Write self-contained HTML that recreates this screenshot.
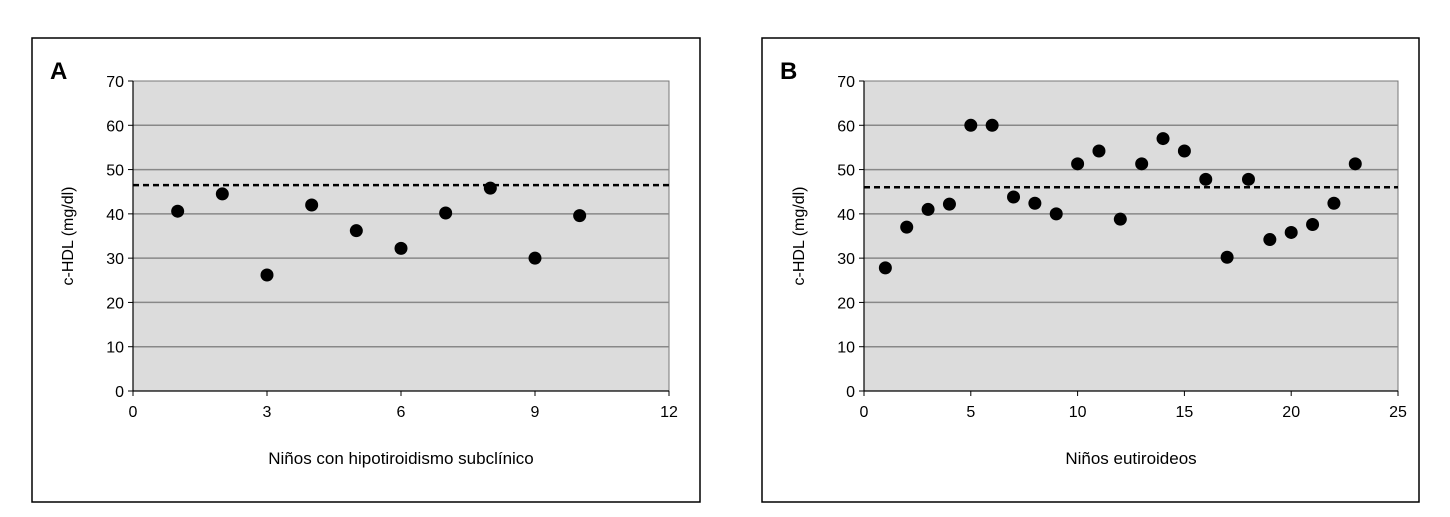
<!DOCTYPE html>
<html><head><meta charset="utf-8"><style>
body{margin:0;background:#fff;width:1450px;height:512px;overflow:hidden;font-family:"Liberation Sans",sans-serif}
</style></head><body>
<svg id="svg" width="1450" height="512" xmlns="http://www.w3.org/2000/svg"></svg>
<script>
const yTicks=[0,10,20,30,40,50,60,70];
const aXTicks=[0,3,6,9,12];
const aXValues=[1,2,3,4,5,6,7,8,9,10];
const aYValues=[40.6,44.5,26.2,42,36.2,32.2,40.2,45.8,30,39.6];
const aMean=46.5;
const bXTicks=[0,5,10,15,20,25];
const bXValues=[1,2,3,4,5,6,7,8,9,10,11,12,13,14,15,16,17,18,19,20,21,22,23];
const bYValues=[27.8,37,41,42.2,60,60,43.8,42.4,40,51.3,54.2,38.8,51.3,57,54.2,47.8,30.2,47.8,34.2,35.8,37.6,42.4,51.3];
const bMean=46;
const NS="http://www.w3.org/2000/svg";
const svg=document.getElementById('svg');
function mk(tag,attrs,parent,text){const e=document.createElementNS(NS,tag);for(const k in attrs)e.setAttribute(k,attrs[k]);if(text!==undefined)e.textContent=text;(parent||svg).appendChild(e);return e;}
function panel(id,box,plot,xMax,xTicks,xs,ys,mean,letter,xTitle){
  const g=mk('g',{});
  
  
  const fr=mk('rect',{x:box[0],y:box[1],width:box[2],height:box[3],fill:'#fff',stroke:'#000','stroke-width':1.5},g);
  
  
  const [px,py,pw,ph]=plot;
  const X=v=>px+v/xMax*pw, Y=v=>py+ph-v/70*ph;
  const bg=mk('rect',{x:px,y:py,width:pw,height:ph,fill:'#dcdcdc',stroke:'#777','stroke-width':1},g);
  
  
  yTicks.forEach(t=>{
    if(t>0&&t<70){const l=mk('line',{x1:px,x2:px+pw,y1:Y(t),y2:Y(t),stroke:'#888','stroke-width':1.5},g);
    
    }
    mk('line',{x1:px-5,x2:px,y1:Y(t),y2:Y(t),stroke:'#000'},g);
    const tx=mk('text',{x:px-9,y:Y(t)+6,'text-anchor':'end','font-size':16},g,t);
    
    
  });
  mk('line',{x1:px,x2:px,y1:py,y2:py+ph,stroke:'#000','stroke-width':1.2},g);
  mk('line',{x1:px,x2:px+pw,y1:py+ph,y2:py+ph,stroke:'#000','stroke-width':1.2},g);
  xTicks.forEach(t=>{
    mk('line',{x1:X(t),x2:X(t),y1:py+ph,y2:py+ph+5,stroke:'#000'},g);
    const tx=mk('text',{x:X(t),y:py+ph+26,'text-anchor':'middle','font-size':16},g,t);
    
    
  });
  const ml=mk('line',{x1:px,x2:px+pw,y1:Y(mean),y2:Y(mean),stroke:'#000','stroke-width':2.5,'stroke-dasharray':'6,4'},g);
  
  
  xs.forEach((x,i)=>{
    const c=mk('circle',{cx:X(x),cy:Y(ys[i]),r:6.5,fill:'#000'},g);
    
    
  });
  const lt=mk('text',{x:box[0]+18,y:box[1]+41,'font-size':24,'font-weight':'bold'},g,letter);
  
  
  const yt=mk('text',{x:0,y:0,'font-size':16,'text-anchor':'middle',transform:`translate(${px-60},${py+ph/2}) rotate(-90)`},g,'c-HDL (mg/dl)');
  
  
  const xt=mk('text',{x:px+pw/2,y:464,'font-size':17,'text-anchor':'middle'},g,xTitle);
  
  
}
panel('a',[32,38,668,464],[133,81,536,310],12,aXTicks,aXValues,aYValues,aMean,'A','Niños con hipotiroidismo subclínico');
panel('b',[762,38,657,464],[864,81,534,310],25,bXTicks,bXValues,bYValues,bMean,'B','Niños eutiroideos');
</script>
</body></html>
